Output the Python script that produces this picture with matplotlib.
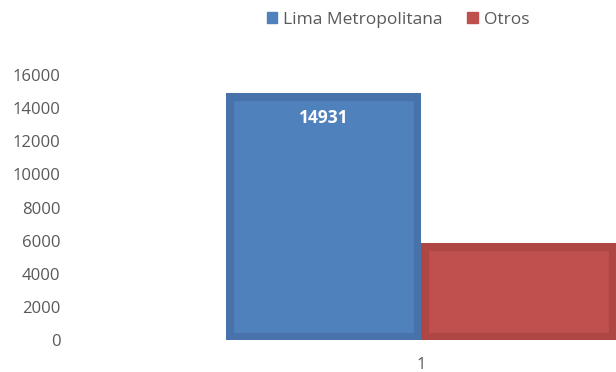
import matplotlib
matplotlib.use("Agg")
import matplotlib.pyplot as plt

plt.rcParams['font.family'] = ['Open Sans', 'DejaVu Sans']

# data
categories = ["1"]
series_names = ["Lima Metropolitana", "Otros"]
series_values = [[14931], [5860]]
fill_colors = ["#4F81BD", "#C0504D"]
edge_colors = ["#4873AA", "#AE4743"]
yticks = [0, 2000, 4000, 6000, 8000, 10000, 12000, 14000, 16000]

W, H = 616, 372
fig = plt.figure(figsize=(W / 100, H / 100), dpi=100)
# plot area in pixels: left 70, right 616, bottom 340, top 75
ax = fig.add_axes([70 / W, (H - 340) / H, (616 - 70) / W, (340 - 75) / H])

bar_w = 1.0
handles = []
for i, (name, vals) in enumerate(zip(series_names, series_values)):
    xs = [j + (i - 0.5) * bar_w for j in range(len(categories))]
    bars = ax.bar(xs, vals, width=bar_w, color=fill_colors[i],
                  edgecolor=edge_colors[i], linewidth=11, label=name)
    # keep the thick border on the inside of each bar
    for p in bars.patches:
        p.set_clip_path(p)
    handles.append(bars)

# value label on the first series only
ax.text(-0.5 * bar_w, series_values[0][0] - 1500, str(series_values[0][0]),
        ha="center", va="center", color="white", fontsize=12.5,
        fontweight="bold")

ax.set_xlim(-(421 - 70) / 195, (616 - 421) / 195)
ax.set_ylim(0, 16000)
ax.set_yticks(yticks)
ax.set_yticklabels([str(t) for t in yticks], color="#595959", fontsize=12)
ax.set_xticks(range(len(categories)))
ax.set_xticklabels(categories, color="#595959", fontsize=12)
ax.tick_params(length=0)
ax.tick_params(axis="y", pad=7)
ax.tick_params(axis="x", pad=12)
for s in ax.spines.values():
    s.set_visible(False)

leg = fig.legend(handles=[plt.Rectangle((0, 0), 1, 1, color=c) for c in fill_colors],
                 labels=series_names, loc="center", bbox_to_anchor=(398 / W, 1 - 20 / H),
                 ncol=2, frameon=False, fontsize=12.5, handlelength=0.6,
                 handleheight=0.6, handletextpad=0.35, columnspacing=1.4,
                 labelcolor="#595959")

fig.savefig("out.png", dpi=100)
